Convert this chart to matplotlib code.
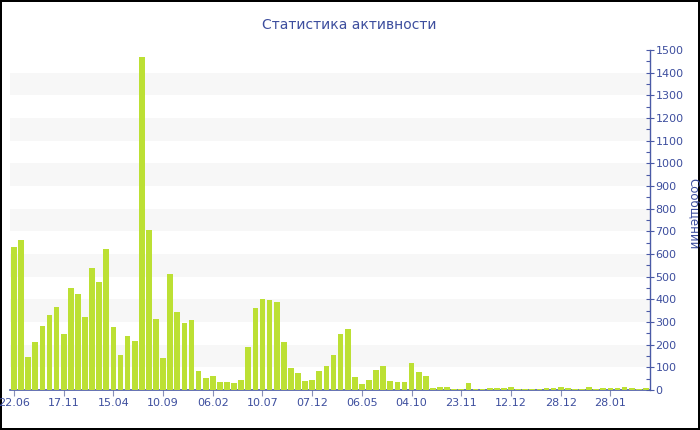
import matplotlib
matplotlib.use("Agg")
import matplotlib.pyplot as plt
from matplotlib.ticker import MultipleLocator, FixedLocator

# Data
values = [632, 660, 147, 210, 281, 331, 365, 247, 449, 425,
          323, 538, 478, 622, 279, 154, 238, 215, 1470, 704,
          315, 143, 512, 346, 296, 307, 85, 53, 60, 35,
          34, 33, 46, 191, 360, 401, 398, 387, 210, 99,
          77, 38, 46, 84, 107, 156, 246, 269, 57, 25,
          43, 87, 107, 40, 34, 34, 118, 79, 63, 8,
          15, 13, 5, 6, 32, 4, 6, 7, 7, 10,
          12, 6, 4, 4, 6, 9, 7, 12, 7, 6,
          6, 12, 6, 7, 7, 9, 12, 10, 6, 7]
tick_positions = [0, 7, 14, 21, 28, 35, 42, 49, 56, 63, 70, 77, 84]
tick_labels = ["22.06", "17.11", "15.04", "10.09", "06.02", "10.07", "07.12",
               "06.05", "04.10", "23.11", "12.12", "28.12", "28.01"]
title = "Статистика активности"
ylabel = "Сообщений"

TXT = "#3d4e9e"
AX = "#4a5aa6"
BAR = "#bce034"

plt.rcParams['font.family'] = ['DejaVu Sans']

fig = plt.figure(figsize=(7, 4.3), dpi=100)
fig.patch.set_facecolor("white")
fig.patch.set_edgecolor("black")
fig.patch.set_linewidth(1.5)

ax = fig.add_axes([10/700, 40/430, 640/700, 340/430])
x = list(range(len(values)))
ax.bar(x, values, width=0.8, color=BAR, linewidth=0, zorder=3)

for lo in range(100, 1500, 200):
    ax.axhspan(lo, lo + 100, color="#f7f7f7", zorder=0, lw=0)

ax.set_xlim(-0.56, 89.58)
ax.set_ylim(0, 1500)

for s in ["top", "left"]:
    ax.spines[s].set_visible(False)
ax.spines["bottom"].set_color(AX)
ax.spines["right"].set_color(AX)
ax.spines["bottom"].set_linewidth(1.2)
ax.spines["right"].set_linewidth(1.0)

ax.yaxis.tick_right()
ax.yaxis.set_major_locator(MultipleLocator(100))
ax.yaxis.set_minor_locator(MultipleLocator(50))
ax.tick_params(axis="y", which="major", direction="inout", length=6, width=0.8,
               color=AX, labelcolor=TXT, labelsize=8, pad=1)
ax.tick_params(axis="y", which="minor", direction="in", length=3, width=0.8, color=AX)

ax.xaxis.set_major_locator(FixedLocator(tick_positions))
ax.set_xticklabels(tick_labels)
ax.tick_params(axis="x", which="major", direction="out", length=4, width=0.8,
               color="#8890b8", labelcolor=TXT, labelsize=8, pad=2)

ax.yaxis.set_label_position("right")
ax.set_ylabel(ylabel, rotation=270, color=TXT, fontsize=8.5, labelpad=0)
ax.yaxis.set_label_coords(1.078, 0.52)

fig.text(349/700, 1 - 25/430, title, ha="center", va="center", color=TXT, fontsize=10)

fig.savefig("out.png", dpi=100, facecolor="white", edgecolor="black")
